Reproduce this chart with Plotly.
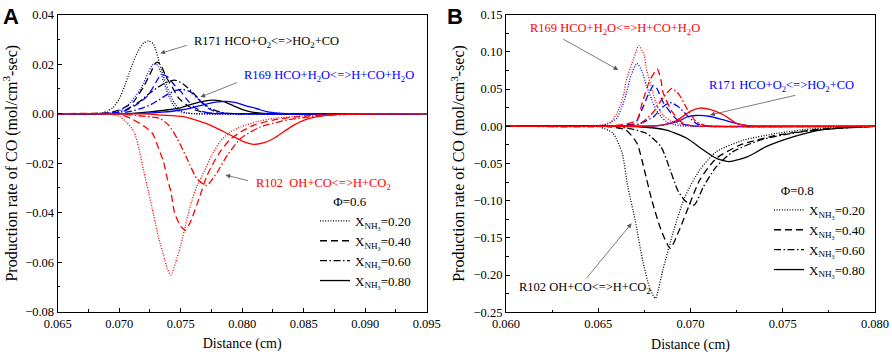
import plotly.graph_objects as go

# ---------------- Panel A (Phi = 0.6) ----------------
# R171 HCO+O2<=>HO2+CO (black)
A_r171_020_x = [0.065, 0.0685, 0.0690, 0.0695, 0.0700, 0.0705, 0.0710, 0.0715, 0.0720, 0.0724, 0.0728, 0.0733, 0.0738, 0.0742, 0.0746, 0.0750, 0.0755, 0.0762, 0.095]
A_r171_020_y = [0, 0.0002, 0.0010, 0.0025, 0.0060, 0.0120, 0.0190, 0.0250, 0.0286, 0.0294, 0.0280, 0.0200, 0.0120, 0.0070, 0.0035, 0.0012, 0.0003, 0.0, 0]
A_r171_040_x = [0.065, 0.0690, 0.0700, 0.0707, 0.0712, 0.0716, 0.0720, 0.0725, 0.0729, 0.0731, 0.0734, 0.0738, 0.0743, 0.0748, 0.0755, 0.0762, 0.0770, 0.0780, 0.095]
A_r171_040_y = [0, 0.0003, 0.0015, 0.0032, 0.0050, 0.0080, 0.0110, 0.0160, 0.0200, 0.0208, 0.0195, 0.0150, 0.0109, 0.0065, 0.0035, 0.0015, 0.0004, 0.0001, 0]
A_r171_060_x = [0.065, 0.0695, 0.0705, 0.0712, 0.0717, 0.0724, 0.0731, 0.0738, 0.0745, 0.0752, 0.0760, 0.0767, 0.0774, 0.0782, 0.0790, 0.095]
A_r171_060_y = [0, 0.0003, 0.0015, 0.0035, 0.0050, 0.0080, 0.0105, 0.0126, 0.0136, 0.0120, 0.0085, 0.0048, 0.0022, 0.0007, 0.0001, 0]
A_r171_080_x = [0.065, 0.0710, 0.0720, 0.0730, 0.0740, 0.0750, 0.0760, 0.0770, 0.0777, 0.0785, 0.0793, 0.0801, 0.0808, 0.0815, 0.0825, 0.095]
A_r171_080_y = [0, 0.0001, 0.0005, 0.0010, 0.0016, 0.0024, 0.0040, 0.0052, 0.0055, 0.0049, 0.0032, 0.0015, 0.0006, 0.0002, 0.0, 0]

# R169 HCO+H2O<=>H+CO+H2O (blue)
A_r169_020_x = [0.065, 0.0690, 0.0700, 0.0707, 0.0713, 0.0718, 0.0723, 0.0727, 0.0729, 0.0732, 0.0736, 0.0740, 0.0744, 0.0748, 0.0755, 0.095]
A_r169_020_y = [0, 0.0002, 0.0012, 0.0035, 0.0070, 0.0105, 0.0160, 0.0198, 0.0204, 0.0190, 0.0130, 0.0075, 0.0035, 0.0012, 0.0002, 0]
A_r169_040_x = [0.065, 0.0695, 0.0705, 0.0712, 0.0718, 0.0723, 0.0728, 0.0732, 0.0735, 0.0739, 0.0745, 0.0750, 0.0756, 0.0761, 0.0768, 0.0775, 0.095]
A_r169_040_y = [0, 0.0002, 0.0012, 0.0030, 0.0050, 0.0072, 0.0110, 0.0145, 0.0158, 0.0150, 0.0115, 0.0090, 0.0052, 0.0026, 0.0008, 0.0002, 0]
A_r169_060_x = [0.065, 0.0700, 0.0710, 0.0718, 0.0725, 0.0732, 0.0740, 0.0747, 0.0752, 0.0758, 0.0763, 0.0767, 0.0773, 0.0780, 0.0788, 0.095]
A_r169_060_y = [0, 0.0002, 0.0010, 0.0022, 0.0035, 0.0055, 0.0080, 0.0095, 0.0098, 0.0088, 0.0065, 0.0045, 0.0020, 0.0006, 0.0001, 0]
A_r169_080_x = [0.065, 0.0720, 0.0735, 0.0750, 0.0760, 0.0770, 0.0780, 0.0787, 0.0795, 0.0803, 0.0812, 0.0820, 0.0830, 0.0840, 0.095]
A_r169_080_y = [0, 0.0001, 0.0006, 0.0015, 0.0025, 0.0038, 0.0048, 0.0050, 0.0045, 0.0032, 0.0020, 0.0008, 0.0002, 0.0, 0]

# R102 OH+CO<=>H+CO2 (red)
A_r102_020_x = [0.065, 0.0695, 0.0700, 0.0706, 0.0712, 0.0716, 0.0720, 0.0724, 0.0728, 0.0732, 0.0736, 0.0739, 0.0742, 0.0746, 0.0750, 0.0754, 0.0758, 0.0763, 0.0769, 0.0775, 0.0782, 0.0790, 0.0799, 0.0812, 0.0826, 0.0845, 0.0870, 0.0900, 0.095]
A_r102_020_y = [0, -0.0003, -0.0010, -0.0035, -0.0073, -0.0140, -0.0234, -0.0320, -0.0409, -0.0500, -0.0571, -0.0625, -0.0652, -0.0600, -0.0531, -0.0450, -0.0369, -0.0295, -0.0234, -0.0170, -0.0113, -0.0075, -0.0053, -0.0032, -0.0019, -0.0010, -0.0003, 0.0, 0]
A_r102_040_x = [0.065, 0.0700, 0.0710, 0.0720, 0.0727, 0.0732, 0.0736, 0.0739, 0.0742, 0.0745, 0.0750, 0.0754, 0.0758, 0.0765, 0.0771, 0.0777, 0.0782, 0.0790, 0.0799, 0.0810, 0.0826, 0.0845, 0.0870, 0.0900, 0.095]
A_r102_040_y = [0, -0.0002, -0.0020, -0.0050, -0.0079, -0.0140, -0.0194, -0.0260, -0.0315, -0.0400, -0.0455, -0.0470, -0.0436, -0.0342, -0.0255, -0.0195, -0.0154, -0.0105, -0.0073, -0.0045, -0.0025, -0.0012, -0.0004, 0.0, 0]
A_r102_060_x = [0.065, 0.0700, 0.0715, 0.0733, 0.0740, 0.0747, 0.0755, 0.0763, 0.0771, 0.0780, 0.0788, 0.0799, 0.0815, 0.0837, 0.0860, 0.0885, 0.0910, 0.095]
A_r102_060_y = [0, -0.0001, -0.0008, -0.0019, -0.0045, -0.0099, -0.0180, -0.0261, -0.0290, -0.0234, -0.0167, -0.0099, -0.0053, -0.0025, -0.0010, -0.0003, 0.0, 0]
A_r102_080_x = [0.065, 0.0720, 0.0735, 0.0752, 0.0765, 0.0774, 0.0786, 0.0793, 0.0802, 0.0809, 0.0817, 0.0826, 0.0834, 0.0842, 0.0851, 0.0861, 0.0875, 0.0895, 0.095]
A_r102_080_y = [0, -0.0001, -0.0006, -0.0012, -0.0030, -0.0046, -0.0075, -0.0093, -0.0115, -0.0124, -0.0118, -0.0099, -0.0072, -0.0046, -0.0025, -0.0012, -0.0004, -0.0001, 0]

# ---------------- Panel B (Phi = 0.8) ----------------
# R169 (red)
B_r169_020_x = [0.060, 0.0640, 0.0650, 0.0657, 0.0660, 0.0662, 0.0664, 0.0665, 0.0669, 0.0672, 0.0675, 0.0676, 0.0680, 0.0682, 0.0685, 0.0689, 0.0693, 0.0697, 0.0703, 0.080]
B_r169_020_y = [0, 0.0, 0.0005, 0.0062, 0.0170, 0.0286, 0.0450, 0.0600, 0.0900, 0.1083, 0.0950, 0.0780, 0.0420, 0.0270, 0.0152, 0.0080, 0.0040, 0.0015, 0.0003, 0]
B_r169_040_x = [0.060, 0.0655, 0.0665, 0.0671, 0.0674, 0.0678, 0.0682, 0.0684, 0.0685, 0.0690, 0.0696, 0.0702, 0.080]
B_r169_040_y = [0, 0.0003, 0.0030, 0.0085, 0.0330, 0.0620, 0.0770, 0.0620, 0.0465, 0.0196, 0.0040, 0.0005, 0]
B_r169_060_x = [0.060, 0.0660, 0.0673, 0.0680, 0.0685, 0.0690, 0.0694, 0.0698, 0.0703, 0.0708, 0.0713, 0.080]
B_r169_060_y = [0, 0.0003, 0.0040, 0.0196, 0.0380, 0.0510, 0.0420, 0.0242, 0.0062, 0.0010, 0.0001, 0]
B_r169_080_x = [0.060, 0.0670, 0.0680, 0.0685, 0.0693, 0.0700, 0.0705, 0.0711, 0.0718, 0.0725, 0.0731, 0.0738, 0.080]
B_r169_080_y = [0, 0.0001, 0.0006, 0.0015, 0.0085, 0.0205, 0.0245, 0.0225, 0.0152, 0.0040, 0.0008, 0.0001, 0]

# R171 (blue)
B_r171_020_x = [0.060, 0.0645, 0.0655, 0.0660, 0.0663, 0.0665, 0.0668, 0.0671, 0.0674, 0.0676, 0.0679, 0.0681, 0.0684, 0.0687, 0.0691, 0.0697, 0.080]
B_r171_020_y = [0, 0.0003, 0.0030, 0.0108, 0.0270, 0.0420, 0.0700, 0.0847, 0.0720, 0.0555, 0.0360, 0.0242, 0.0130, 0.0062, 0.0020, 0.0003, 0]
B_r171_040_x = [0.060, 0.0655, 0.0665, 0.0670, 0.0674, 0.0677, 0.0680, 0.0682, 0.0685, 0.0691, 0.0695, 0.0700, 0.080]
B_r171_040_y = [0, 0.0002, 0.0020, 0.0040, 0.0242, 0.0420, 0.0555, 0.0500, 0.0330, 0.0130, 0.0040, 0.0008, 0]
B_r171_060_x = [0.060, 0.0660, 0.0672, 0.0680, 0.0685, 0.0689, 0.0693, 0.0698, 0.0703, 0.0708, 0.0713, 0.080]
B_r171_060_y = [0, 0.0002, 0.0030, 0.0130, 0.0260, 0.0320, 0.0270, 0.0152, 0.0040, 0.0008, 0.0001, 0]
B_r171_080_x = [0.060, 0.0672, 0.0682, 0.0693, 0.0698, 0.0703, 0.0710, 0.0718, 0.0727, 0.0733, 0.0740, 0.080]
B_r171_080_y = [0, 0.0001, 0.0008, 0.0062, 0.0125, 0.0145, 0.0135, 0.0085, 0.0027, 0.0006, 0.0001, 0]

# R102 (black)
B_r102_020_x = [0.060, 0.0645, 0.0651, 0.0658, 0.0663, 0.0666, 0.0670, 0.0674, 0.0678, 0.0681, 0.0685, 0.0691, 0.0697, 0.0705, 0.0714, 0.0729, 0.0747, 0.0767, 0.0790, 0.080]
B_r102_020_y = [0, 0.0, -0.0010, -0.0094, -0.0363, -0.0812, -0.1260, -0.1797, -0.2180, -0.2312, -0.1930, -0.1390, -0.0946, -0.0587, -0.0341, -0.0184, -0.0094, -0.0030, -0.0005, 0]
B_r102_040_x = [0.060, 0.0655, 0.0665, 0.0671, 0.0675, 0.0679, 0.0684, 0.0689, 0.0694, 0.0699, 0.0705, 0.0714, 0.0727, 0.0745, 0.0766, 0.0790, 0.080]
B_r102_040_y = [0, -0.0003, -0.0050, -0.0229, -0.0587, -0.0990, -0.1390, -0.1640, -0.1390, -0.1080, -0.0722, -0.0430, -0.0251, -0.0130, -0.0050, -0.0010, 0]
B_r102_060_x = [0.060, 0.0660, 0.0676, 0.0684, 0.0689, 0.0693, 0.0697, 0.0702, 0.0707, 0.0714, 0.0723, 0.0738, 0.0756, 0.0775, 0.0795, 0.080]
B_r102_060_y = [0, -0.0003, -0.0094, -0.0274, -0.0587, -0.0856, -0.1000, -0.1058, -0.0812, -0.0543, -0.0341, -0.0184, -0.0090, -0.0035, -0.0008, 0]
B_r102_080_x = [0.060, 0.0670, 0.0687, 0.0698, 0.0707, 0.0714, 0.0721, 0.0731, 0.0741, 0.0756, 0.0770, 0.0790, 0.080]
B_r102_080_y = [0, -0.0003, -0.0050, -0.0161, -0.0319, -0.0430, -0.0475, -0.0408, -0.0274, -0.0140, -0.0050, -0.0010, 0]

legend_labels = ["X<sub>NH₃</sub>=0.20", "X<sub>NH₃</sub>=0.40", "X<sub>NH₃</sub>=0.60", "X<sub>NH₃</sub>=0.80"]
dashes = ["1px,1.6px", "7px,4px", "7px,2.5px,1.5px,2.5px", "solid"]

SERIF = "Times New Roman"
BLACK, BLUE, RED = "#000000", "#0000ff", "#ff0000"
LW = 1.3

fig = go.Figure()

def add(xs, ys, color, dash, xa, ya):
    fig.add_trace(go.Scatter(x=xs, y=ys, mode="lines", xaxis=xa, yaxis=ya, showlegend=False,
                             line=dict(color=color, width=LW, dash=dash, shape="spline", smoothing=0.6),
                             hoverinfo="skip"))

A_black = [(A_r171_020_x, A_r171_020_y), (A_r171_040_x, A_r171_040_y), (A_r171_060_x, A_r171_060_y), (A_r171_080_x, A_r171_080_y)]
A_blue = [(A_r169_020_x, A_r169_020_y), (A_r169_040_x, A_r169_040_y), (A_r169_060_x, A_r169_060_y), (A_r169_080_x, A_r169_080_y)]
A_red = [(A_r102_020_x, A_r102_020_y), (A_r102_040_x, A_r102_040_y), (A_r102_060_x, A_r102_060_y), (A_r102_080_x, A_r102_080_y)]
B_black = [(B_r102_020_x, B_r102_020_y), (B_r102_040_x, B_r102_040_y), (B_r102_060_x, B_r102_060_y), (B_r102_080_x, B_r102_080_y)]
B_blue = [(B_r171_020_x, B_r171_020_y), (B_r171_040_x, B_r171_040_y), (B_r171_060_x, B_r171_060_y), (B_r171_080_x, B_r171_080_y)]
B_red = [(B_r169_020_x, B_r169_020_y), (B_r169_040_x, B_r169_040_y), (B_r169_060_x, B_r169_060_y), (B_r169_080_x, B_r169_080_y)]

for group, color in [(A_black, BLACK), (A_blue, BLUE), (A_red, RED)]:
    for (xs, ys), d in zip(group, dashes):
        add(xs, ys, color, d, "x", "y")
for group, color in [(B_black, BLACK), (B_blue, BLUE), (B_red, RED)]:
    for (xs, ys), d in zip(group, dashes):
        add(xs, ys, color, d, "x2", "y2")

# legend entries (black line-style keys)
for lab, d in zip(legend_labels, dashes):
    fig.add_trace(go.Scatter(x=[None], y=[None], mode="lines", name=lab, xaxis="x", yaxis="y",
                             legend="legend", line=dict(color=BLACK, width=LW, dash=d)))
for lab, d in zip(legend_labels, dashes):
    fig.add_trace(go.Scatter(x=[None], y=[None], mode="lines", name=lab, xaxis="x2", yaxis="y2",
                             legend="legend2", line=dict(color=BLACK, width=LW, dash=d)))

W, H = 892, 356
def px(xp): return xp / W
def py(yp): return 1 - yp / H

TICKF = dict(family=SERIF, size=12.5, color="black")
axis_common = dict(showline=True, linecolor="black", linewidth=1.2, mirror=True, ticks="inside",
                   ticklen=4, tickwidth=1.1, tickcolor="black", showgrid=False, zeroline=False,
                   tickfont=TICKF, automargin=False)

title_font = dict(family=SERIF, size=14, color="black")
ytitle_font = dict(family=SERIF, size=16, color="black")
LEGF = dict(family=SERIF, size=13, color="black")
NB = "\u00a0" * 5

fig.update_layout(
    width=W, height=H, margin=dict(l=0, r=0, t=0, b=0, autoexpand=False),
    font=dict(family=SERIF, size=13, color="black"),
    paper_bgcolor="white", plot_bgcolor="white",
    xaxis=dict(domain=[px(57.7), px(426.7)], range=[0.065, 0.095], dtick=0.005, tick0=0.065, tickformat=".3f",
               minor=dict(ticks="inside", ticklen=2.5, dtick=0.0025, tick0=0.065, tickcolor="black"),
               title=dict(text="Distance (cm)", font=title_font, standoff=8), anchor="y", **axis_common),
    yaxis=dict(domain=[py(311.7), py(14.7)], range=[-0.08, 0.04], dtick=0.02, tickformat=".2f",
               minor=dict(ticks="inside", ticklen=2.5, dtick=0.01, tickcolor="black"),
               title=dict(text="Production rate of CO (mol/cm<sup>3</sup>-sec)", font=ytitle_font, standoff=5),
               anchor="x", **axis_common),
    xaxis2=dict(domain=[px(506), px(875)], range=[0.060, 0.080], dtick=0.005, tick0=0.060, tickformat=".3f",
                minor=dict(ticks="inside", ticklen=2.5, dtick=0.0025, tick0=0.060, tickcolor="black"),
                title=dict(text="Distance (cm)", font=title_font, standoff=8), anchor="y2", **axis_common),
    yaxis2=dict(domain=[py(312.3), py(14.7)], range=[-0.25, 0.15], dtick=0.05, tickformat=".2f",
                minor=dict(ticks="inside", ticklen=2.5, dtick=0.025, tickcolor="black"),
                title=dict(text="Production rate of CO (mol/cm<sup>3</sup>-sec)", font=ytitle_font, standoff=4),
                anchor="x2", **axis_common),
    legend=dict(x=px(315), y=py(189), xanchor="left", yanchor="top", bgcolor="rgba(0,0,0,0)",
                font=LEGF, tracegroupgap=0, itemwidth=30,
                title=dict(text=NB + "Φ=0.6", side="top", font=LEGF)),
    legend2=dict(x=px(769), y=py(178), xanchor="left", yanchor="top", bgcolor="rgba(0,0,0,0)",
                 font=LEGF, tracegroupgap=0, itemwidth=30,
                 title=dict(text="\u00a0\u00a0\u00a0" + "Φ=0.8", side="top", font=LEGF)),
)

ANN_SIZE = 12.5
ann_font = lambda c: dict(family=SERIF, size=ANN_SIZE, color=c)
ARROW = dict(showarrow=True, arrowhead=2, arrowsize=1.2, arrowwidth=0.8, arrowcolor="#5a5a5a", text="")
annotations = [
    # Panel labels
    dict(text="<b>A</b>", xref="paper", yref="paper", x=px(1), y=py(2), xanchor="left", yanchor="top",
         showarrow=False, font=dict(family="Liberation Sans", size=22, color="black")),
    dict(text="<b>B</b>", xref="paper", yref="paper", x=px(445), y=py(2), xanchor="left", yanchor="top",
         showarrow=False, font=dict(family="Liberation Sans", size=22, color="black")),
    # Panel A texts
    dict(text="R171 HCO+O<sub>2</sub>&lt;=&gt;HO<sub>2</sub>+CO", xref="x", yref="y", x=0.07594, y=0.029,
         xanchor="left", yanchor="middle", showarrow=False, font=ann_font(BLACK)),
    dict(text="R169 HCO+H<sub>2</sub>O&lt;=&gt;H+CO+H<sub>2</sub>O", xref="x", yref="y", x=0.08002, y=0.0152,
         xanchor="left", yanchor="middle", showarrow=False, font=ann_font(BLUE)),
    dict(text="R102  OH+CO&lt;=&gt;H+CO<sub>2</sub>", xref="x", yref="y", x=0.08092, y=-0.0284,
         xanchor="left", yanchor="middle", showarrow=False, font=ann_font(RED)),
    # Panel A arrows
    dict(xref="x", yref="y", axref="x", ayref="y", x=0.07334, y=0.0244, ax=0.07562, ay=0.0278, **ARROW),
    dict(xref="x", yref="y", axref="x", ayref="y", x=0.0766, y=0.0067, ax=0.07969, ay=0.0128, **ARROW),
    dict(xref="x", yref="y", axref="x", ayref="y", x=0.07864, y=-0.0248, ax=0.0806, ay=-0.0272, **ARROW),
    # Panel B texts
    dict(text="R169 HCO+H<sub>2</sub>O&lt;=&gt;H+CO+H<sub>2</sub>O", xref="x2", yref="y2", x=0.06118, y=0.1304,
         xanchor="left", yanchor="middle", showarrow=False, font=ann_font(RED)),
    dict(text="R171 HCO+O<sub>2</sub>&lt;=&gt;HO<sub>2</sub>+CO", xref="x2", yref="y2", x=0.07088, y=0.0542,
         xanchor="left", yanchor="middle", showarrow=False, font=ann_font(BLUE)),
    dict(text="R102 OH+CO&lt;=&gt;H+CO<sub>2</sub>", xref="x2", yref="y2", x=0.06058, y=-0.2177,
         xanchor="left", yanchor="middle", showarrow=False, font=ann_font(BLACK)),
    # Panel B arrows
    dict(xref="x2", yref="y2", axref="x2", ayref="y2", x=0.06609, y=0.0757, ax=0.06302, ay=0.1183, **ARROW),
    dict(xref="x2", yref="y2", axref="x2", ayref="y2", x=0.07106, y=0.0152, ax=0.07576, ay=0.0421, **ARROW),
    dict(xref="x2", yref="y2", axref="x2", ayref="y2", x=0.06681, y=-0.1304, ax=0.06428, ay=-0.2066, **ARROW),
]
fig.update_layout(annotations=annotations)

fig.write_html("out.html", config={"displayModeBar": False},
               post_script="document.body.style.margin='0';document.body.style.padding='0';")
